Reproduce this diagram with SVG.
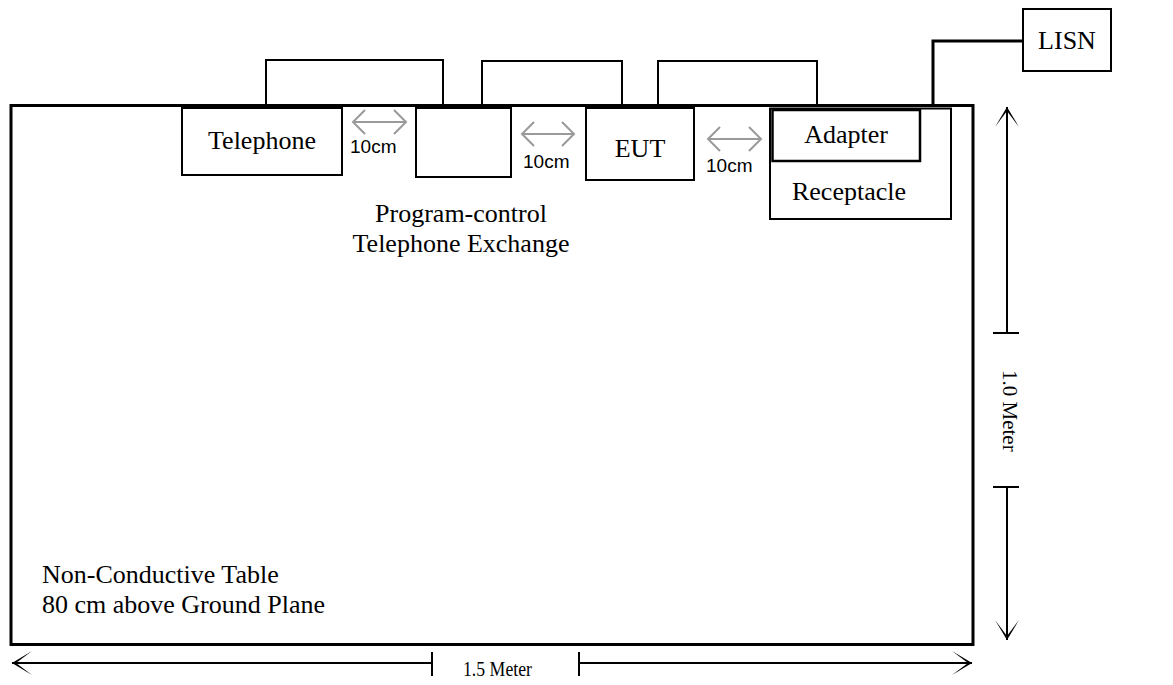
<svg xmlns="http://www.w3.org/2000/svg" width="1173" height="685" viewBox="0 0 1173 685">
<style>
.t{font-family:"Liberation Serif","Times New Roman",serif;font-size:26px;fill:#000}
.d{font-family:"Liberation Serif","Times New Roman",serif;font-size:21px;fill:#000}
.s{font-family:"Liberation Sans",Arial,sans-serif;font-size:19px;fill:#000}
.box{fill:#fff;stroke:#000;stroke-width:2}
.cab{fill:none;stroke:#000;stroke-width:2}
.g{fill:none;stroke:#9a9a9a;stroke-width:2}
.k{fill:none;stroke:#000;stroke-width:2}
</style>
<defs>
<marker id="ka" viewBox="-21 -13 22 26" refX="0" refY="0" markerWidth="22" markerHeight="26" markerUnits="userSpaceOnUse" orient="auto-start-reverse">
<path d="M0,0 L-20,-12 L-4,0 L-20,12 Z" fill="#000"/>
</marker>
</defs>
<g id="cables">
<path class="cab" d="M266,105 V60 H443 V105"/>
<path class="cab" d="M482,105 V61 H622 V105"/>
<path class="cab" d="M658,105 V61 H817 V105"/>
<path d="M933,105 V41 H1023" fill="none" stroke="#000" stroke-width="3"/>
</g>
<g id="table">
<rect x="11" y="105.5" width="962" height="539" fill="none" stroke="#000" stroke-width="3"/>
<text class="t" x="42" y="583">Non-Conductive Table</text>
<text class="t" x="42" y="613">80 cm above Ground Plane</text>
</g>
<g id="telephone">
<rect class="box" x="182" y="108" width="160" height="67"/>
<text class="t" x="262" y="149" text-anchor="middle">Telephone</text>
</g>
<g id="exchange">
<rect class="box" x="416" y="108" width="95" height="69"/>
<text class="t" x="461" y="222" text-anchor="middle">Program-control</text>
<text class="t" x="461" y="252" text-anchor="middle">Telephone Exchange</text>
</g>
<g id="eut">
<rect class="box" x="586" y="108" width="108" height="72"/>
<text class="t" x="640" y="157" text-anchor="middle">EUT</text>
</g>
<g id="receptacle">
<rect class="box" x="770" y="108.5" width="181" height="110.5"/>
<text class="t" x="849" y="200" text-anchor="middle">Receptacle</text>
</g>
<g id="adapter">
<rect x="772.5" y="110" width="147.5" height="51" fill="#fff" stroke="#000" stroke-width="2.5"/>
<text class="t" x="846" y="143" text-anchor="middle">Adapter</text>
</g>
<g id="lisn">
<rect class="box" x="1023" y="9" width="88" height="62"/>
<text class="t" x="1067" y="49" text-anchor="middle">LISN</text>
</g>
<g id="spacing">
<path class="g" d="M365,110 L353,122 L365,134 M353,122 H406 M394,110 L406,122 L394,134"/>
<text class="s" x="350" y="153">10cm</text>
<path class="g" d="M534,122 L522,134 L534,146 M522,134 H574 M562,122 L574,134 L562,146"/>
<text class="s" x="523" y="168">10cm</text>
<path class="g" d="M720,127 L708,139 L720,151 M708,139 H761 M749,127 L761,139 L749,151"/>
<text class="s" x="706" y="172">10cm</text>
</g>
<g id="dimensions">
<line class="k" x1="12" y1="663" x2="432" y2="663" marker-start="url(#ka)"/>
<line class="k" x1="432" y1="652" x2="432" y2="676"/>
<line class="k" x1="579" y1="663" x2="972" y2="663" marker-end="url(#ka)"/>
<line class="k" x1="579" y1="652" x2="579" y2="676"/>
<text class="d" x="463" y="676" textLength="69" lengthAdjust="spacingAndGlyphs">1.5 Meter</text>
<line class="k" x1="1007" y1="107" x2="1007" y2="333" marker-start="url(#ka)"/>
<line class="k" x1="993" y1="333" x2="1019" y2="333"/>
<line class="k" x1="1007" y1="487" x2="1007" y2="640" marker-end="url(#ka)"/>
<line class="k" x1="993" y1="487" x2="1019" y2="487"/>
<text class="d" transform="translate(1003,370) rotate(90)">1.0 Meter</text>
</g>
</svg>
